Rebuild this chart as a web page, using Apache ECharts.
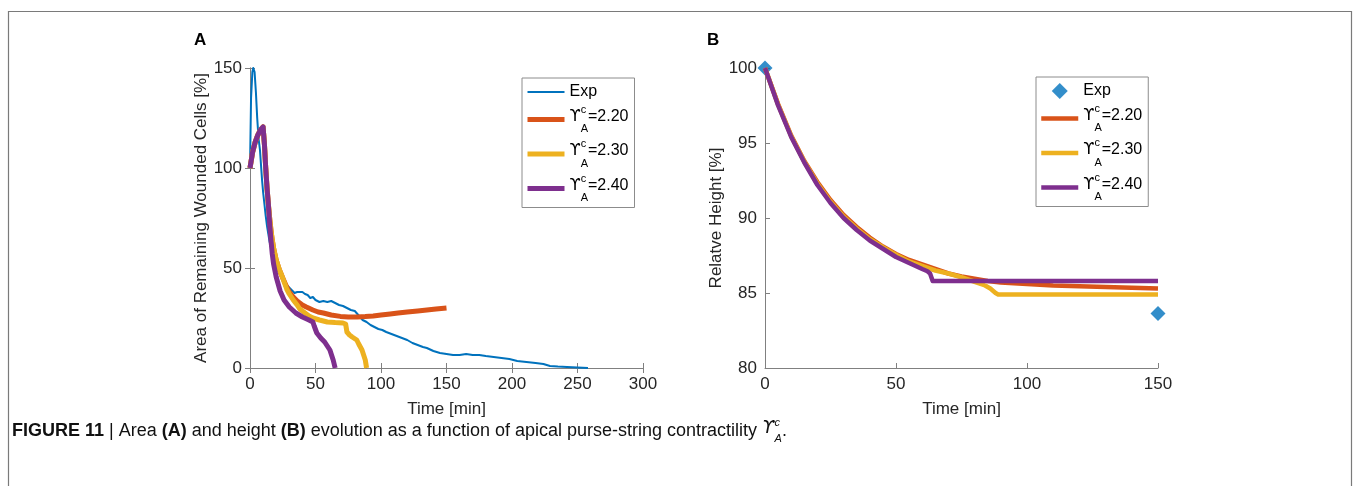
<!DOCTYPE html>
<html><head><meta charset="utf-8">
<script src="https://cdn.jsdelivr.net/npm/echarts@6/dist/echarts.min.js"></script>
<style>html,body{margin:0;padding:0;background:#fff}#c{width:1357px;height:486px}</style>
</head><body><div id="c"></div>
<script>
// ---------- DATA ----------
// Panel A: area of remaining wounded cells [%] vs time [min]
const expA = [[0,100],[0.8,135],[1.8,148],[2.5,150],[3.5,148],[4.5,138],[5.5,125],[6.5,115],[7.6,109],[9.2,94],[10,88],[11,82],[12,76],[13,71],[14,67],[15,63],[16.5,59],[18,55],[20,51],[22,48],[25,44.5],[28,41.5],[31,39.5],[34,37.5],[36,38],[38,38],[40,38],[42,37],[44,36.5],[46,35],[48,35.5],[50,34],[53,33],[56,33.5],[59,33],[62,33.5],[65,32.5],[68,31.5],[71,31],[74,30],[77,29],[80,28.5],[82,27],[84,25.5],[86,24],[89,23],[92,21.5],[95,20.5],[98,19.5],[101,19],[104,18],[108,17],[112,16],[116,15],[120,14],[124,12.5],[128,11.5],[132,10.5],[135,10],[140,8.5],[145,7.5],[150,7],[155,6.5],[160,6.5],[165,7],[170,6.5],[175,6.5],[180,6],[186,5.5],[192,5],[198,4.5],[204,3.5],[211,3],[218,2.5],[224,2],[229,1],[235,0.7],[242,0.5],[250,0.3],[258,0]];
const a220 = [[0,100],[2,108],[4,113],[6,116.5],[8,119],[10,120.5],[11,112],[12,100],[13,90],[14,82],[15,75],[16,69],[17,64],[18,60],[20,54],[22.5,49],[25,45],[28,40.5],[30,38],[33,35.5],[36,33.5],[40,31.5],[43,30.5],[48,29],[52,28],[56,27.5],[62,26.5],[69,25.8],[75,25.5],[82,25.5],[88,25.7],[94,26],[100,26.5],[107,27],[113,27.5],[120,28],[128,28.5],[135,29],[142,29.5],[150,30]];
const a230 = [[0,100],[2,108],[4,113],[6,116.5],[8,119],[10,120.5],[11,112],[12,100],[13,90],[14,82],[15,75],[16,69],[17,64],[18,60],[20,54],[22.5,49],[25,45],[28,39.5],[30,37],[33,34],[36,31.5],[38,29.5],[42,27.5],[45,26],[48,25],[53,24],[59,23],[65,22.7],[71,22.5],[73,22],[74,18],[76,16.5],[78,15.5],[81.5,14],[83,12],[85.5,9],[87,6],[88,4],[89,0]];
const a240 = [[0,100],[2,108],[4,113],[6,116.5],[8,119],[10,120.5],[11,112],[12,100],[13,90],[14,82],[15,72],[16,64],[17,57],[18,52],[20,45.5],[23,38.5],[26,34],[30,30.5],[35,27.5],[40,25.5],[45,24],[48,23],[49,21],[51,17.5],[54,15],[57,13],[59,11],[61,9],[62.5,6],[63.5,4],[65,0]];
// Panel B: relative height [%] vs time [min]
const expB = [[0,100],[150,83.64]];
const b220 = [[0,100],[5,97.6],[10,95.5],[15,93.8],[20,92.4],[25,91.2],[30,90.2],[35,89.4],[40,88.7],[45,88.1],[50,87.6],[55,87.2],[60,86.9],[65,86.6],[70,86.3],[75,86.1],[80,85.95],[85,85.8],[90,85.7],[95,85.65],[100,85.6],[110,85.5],[120,85.45],[130,85.4],[140,85.35],[150,85.3]];
const b230 = [[0,100],[5,97.55],[10,95.45],[15,93.75],[20,92.3],[25,91.1],[30,90.1],[35,89.3],[40,88.6],[45,88.05],[50,87.55],[55,87.1],[60,86.8],[65,86.5],[70,86.3],[75,86.05],[80,85.75],[84,85.5],[86,85.3],[88,85.0],[89,84.9],[150,84.9]];
const b240 = [[0,100],[5,97.5],[10,95.4],[15,93.7],[20,92.2],[25,91.0],[30,90.0],[35,89.2],[40,88.5],[45,87.95],[50,87.4],[55,87.0],[60,86.6],[62,86.45],[63,86.3],[64,85.8],[150,85.8]];
// Legend labels and axis ranges
const modelLabels = ['2.20','2.30','2.40'];
const axisA = {xMin:0, xMax:300, xStep:50, yMin:0, yMax:150, yStep:50};
const axisB = {xMin:0, xMax:150, xStep:50, yMin:80, yMax:100, yStep:5};

// ---------- CHART ----------
const FONT = '"Liberation Sans", Arial, Helvetica, sans-serif';
const SYMFONT = '"DejaVu Sans", "Liberation Sans", sans-serif';
const COL = ['#0072BD', '#D95319', '#EDB120', '#7E2F8E'];
const GRAY = '#808080';
const TXT = '#262626';
const DIAMOND = 'path://M5,0 L10,5 L5,10 L0,5 Z';

const chart = echarts.init(document.getElementById('c'), null, {renderer: 'canvas'});

function mkX(grid, r, opts) {
  return Object.assign({
    type: 'value', gridIndex: grid, min: r.xMin, max: r.xMax, interval: r.xStep,
    axisLine: {show: true, lineStyle: {color: GRAY, width: 1}},
    axisTick: {show: true, inside: true, length: 5, lineStyle: {color: GRAY}},
    axisLabel: {show: true, color: TXT, fontSize: 17, fontFamily: FONT, margin: 8},
    splitLine: {show: false}
  }, opts || {});
}
function mkY(grid, r, opts) {
  return Object.assign({
    type: 'value', gridIndex: grid, min: r.yMin, max: r.yMax, interval: r.yStep,
    axisLine: {show: true, lineStyle: {color: GRAY, width: 1}},
    axisTick: {show: true, inside: true, length: 5, lineStyle: {color: GRAY}},
    axisLabel: {show: true, color: TXT, fontSize: 17, fontFamily: FONT, margin: 8},
    splitLine: {show: false}
  }, opts || {});
}
const nameStyle = {color: TXT, fontSize: 17, fontFamily: FONT};

const rich = {
  u: {fontSize: 16, fontFamily: SYMFONT, color: '#000', height: 23, lineHeight: 29, verticalAlign: 'top'},
  v: {fontSize: 16, fontFamily: FONT, color: '#000', height: 23, lineHeight: 29, verticalAlign: 'top'},
  c: {fontSize: 11, fontFamily: FONT, color: '#000', height: 9, lineHeight: 9, verticalAlign: 'top', width: 0},
  a: {fontSize: 11, fontFamily: FONT, color: '#000', height: 10, lineHeight: 10, verticalAlign: 'bottom'},
  e: {fontSize: 16, fontFamily: FONT, color: '#000', lineHeight: 14}
};
function legendFmt(name) {
  const n = name.replace(' (B)', '');
  if (n === 'Exp') return '{e|Exp}';
  return '{u|\u03D2}{c|c}{a|A}{v|=' + n.split('=')[1] + '}';
}
const seriesNames = modelLabels.map(l => '\u03D2cA=' + l);

function legendAt(left, top, names, lineLegend) {
  return {
    orient: 'vertical', left: left, top: top, padding: [6, 6, 4, 3], itemGap: 4,
    itemWidth: 37, itemHeight: 16, borderColor: '#8c8c8c', borderWidth: 1,
    backgroundColor: '#fff', selectedMode: false, symbolKeepAspect: true,
    lineStyle: {width: 'inherit'},
    data: names.map((n, i) => (i === 0 && !lineLegend)
      ? {name: n, icon: DIAMOND}
      : {name: n, itemStyle: {opacity: 0}, lineStyle: {width: 'inherit'}}),
    formatter: legendFmt,
    textStyle: {fontFamily: FONT, fontSize: 16, color: '#000', rich: rich}
  };
}

function lineSeries(name, data, color, width, xi, yi) {
  return {
    name: name, type: 'line', data: data, xAxisIndex: xi, yAxisIndex: yi,
    symbol: 'none', showSymbol: false, smooth: false, animation: false, z: 3,
    lineStyle: {color: color, width: width, cap: 'butt', join: 'round'},
    itemStyle: {color: color}
  };
}

const option = {
  backgroundColor: '#fff',
  animation: false,
  textStyle: {fontFamily: FONT},
  title: [
    {text: 'A', left: 189, top: 27, textStyle: {fontSize: 17, fontWeight: 'bold', color: '#000', fontFamily: FONT}},
    {text: 'B', left: 702, top: 27, textStyle: {fontSize: 17, fontWeight: 'bold', color: '#000', fontFamily: FONT}}
  ],
  grid: [
    {left: 250, top: 68, width: 393, height: 300, outerBoundsMode: 'none', containLabel: false},
    {left: 765, top: 68, width: 393, height: 300, outerBoundsMode: 'none', containLabel: false}
  ],
  xAxis: [
    mkX(0, axisA, {name: 'Time [min]', nameLocation: 'middle', nameGap: 33, nameTextStyle: nameStyle}),
    mkX(0, axisA, {position: 'top', axisLabel: {show: false}}),
    mkX(1, axisB, {name: 'Time [min]', nameLocation: 'middle', nameGap: 33, nameTextStyle: nameStyle})
  ],
  yAxis: [
    mkY(0, axisA, {name: 'Area of Remaining Wounded Cells [%]', nameLocation: 'middle', nameGap: 37, nameTextStyle: nameStyle}),
    mkY(0, axisA, {position: 'right', axisLabel: {show: false}}),
    mkY(1, axisB, {name: 'Relatve Height [%]', nameLocation: 'middle', nameGap: 35, nameTextStyle: nameStyle})
  ],
  legend: [
    legendAt(522, 78, ['Exp'].concat(seriesNames), true),
    legendAt(1036, 77, ['Exp (B)'].concat(seriesNames.map(n => n + ' (B)')), false)
  ],
  series: [
    lineSeries('Exp', expA, COL[0], 2, 0, 0),
    lineSeries(seriesNames[0], a220, COL[1], 5, 0, 0),
    lineSeries(seriesNames[1], a230, COL[2], 5, 0, 0),
    lineSeries(seriesNames[2], a240, COL[3], 5, 0, 0),
    {name: 'Exp (B)', type: 'scatter', data: expB, xAxisIndex: 2, yAxisIndex: 2, symbol: DIAMOND,
     symbolSize: 15, symbolKeepAspect: true, clip: false, itemStyle: {color: COL[0]}, z: 2},
    lineSeries(seriesNames[0] + ' (B)', b220, COL[1], 4.5, 2, 2),
    lineSeries(seriesNames[1] + ' (B)', b230, COL[2], 4.5, 2, 2),
    lineSeries(seriesNames[2] + ' (B)', b240, COL[3], 4.5, 2, 2)
  ],
  graphic: [
    {type: 'rect', shape: {x: 8.5, y: 11.5, width: 1343, height: 520}, style: {fill: 'none', stroke: '#7a7a7a', lineWidth: 1.2}, silent: true},
    {type: 'text', left: 12, top: 417, style: {
      text: '{b|FIGURE 11} {s||} Area {b|(A)} and height {b|(B)} evolution as a function of apical purse-string contractility {i|\u03D2}{ic|c}{ia|A}.',
      font: '18px ' + FONT, fill: '#111',
      rich: {
        b: {fontWeight: 'bold', fontSize: 18, fontFamily: FONT, color: '#111'},
        s: {fontSize: 18, fontFamily: FONT, color: '#9a9a9a'},
        i: {fontStyle: 'italic', fontSize: 18, fontFamily: SYMFONT, color: '#111', height: 20, lineHeight: 26, verticalAlign: 'top'},
        ic: {fontStyle: 'italic', fontSize: 11, fontFamily: FONT, color: '#111', height: 9, lineHeight: 9, verticalAlign: 'top', width: 0},
        ia: {fontStyle: 'italic', fontSize: 11, fontFamily: FONT, color: '#111', height: 10, lineHeight: 10, verticalAlign: 'bottom'}
      }
    }}
  ]
};
chart.setOption(option);
</script></body></html>
